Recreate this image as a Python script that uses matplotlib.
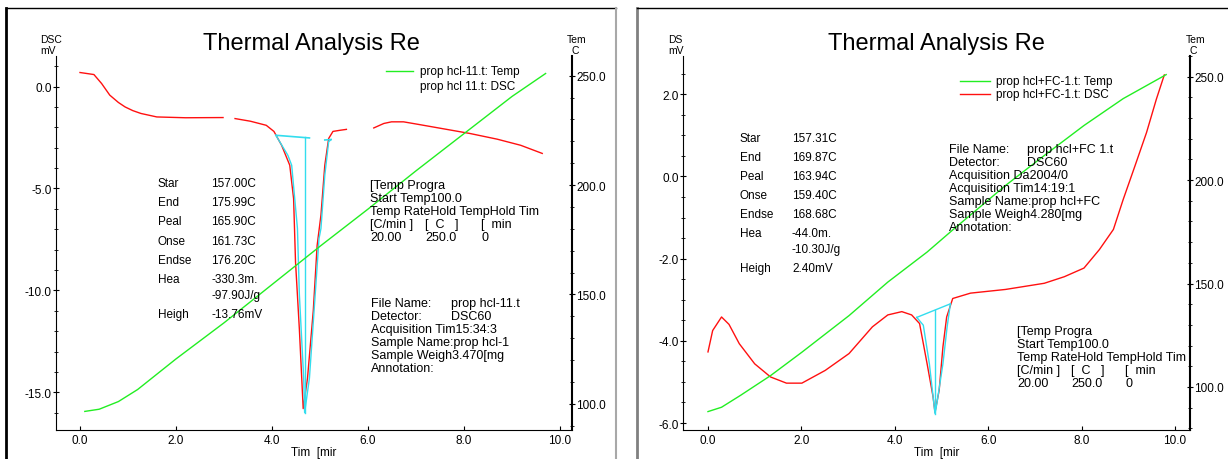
import matplotlib
matplotlib.use("Agg")
import matplotlib.pyplot as plt
import numpy as np
from matplotlib.lines import Line2D
from matplotlib.ticker import MultipleLocator, FormatStrFormatter

plt.rcParams['font.family'] = ['Liberation Sans', 'DejaVu Sans']

W, H = 1228, 460

# ---- left run: prop hcl-11 ----
left_t = [0.0, 0.29, 0.45, 0.62, 0.8, 0.94, 1.1, 1.27, 1.6, 2.2, 2.98, np.nan, 3.23, 3.55, 3.88,
          4.04, 4.2, 4.37, 4.45, 4.49, 4.57, 4.65, 4.74, 4.86, 4.94, 5.02, 5.1, 5.18, 5.27,
          5.43, 5.55, np.nan, 6.12, 6.33, 6.49, 6.74, 7.06, 7.47, 8.12, 8.69, 9.18, 9.63]
left_dsc = [0.69, 0.59, 0.15, -0.42, -0.78, -1.0, -1.18, -1.32, -1.49, -1.53, -1.52, np.nan, -1.57,
            -1.70, -1.90, -2.2, -2.88, -3.86, -5.5, -8.6, -11.9, -15.8, -14.3, -11.0, -7.8,
            -6.3, -3.86, -2.55, -2.2, -2.14, -2.1, np.nan, -2.03, -1.81, -1.73, -1.73, -1.86,
            -2.03, -2.3, -2.58, -2.88, -3.28]
left_temp_t = [0.1, 0.4, 0.8, 1.2, 1.6, 2.0, 3.0, 4.0, 5.0, 6.0, 7.0, 8.0, 9.0, 9.7]
left_temp = [96.5, 97.5, 101, 106.5, 113.5, 120.5, 137, 154.5, 172, 189, 206.5, 223.5, 240.5, 251]
left_peak_t = [4.08, 4.33, 4.41, 4.53, 4.57, 4.66, 4.68, 4.78, 4.9, 4.98, 5.02, 5.1, 5.18, 5.23]
left_peak_dsc = [-2.39, -3.37, -3.86, -6.96, -10.2, -14.3, -16.0, -14.3, -10.2, -7.45, -6.96,
                 -4.35, -2.71, -2.6]
left_base_t = [4.08, 4.78, np.nan, 5.1, 5.23]
left_base_dsc = [-2.39, -2.52, np.nan, -2.62, -2.6]
left_peak_time = 4.68
left_stats = ["157.00C", "175.99C", "165.90C", "161.73C", "176.20C", "-330.3m.", "-97.90J/g", "-13.76mV"]
left_file = ["File Name:", "Detector:", "Acquisition Tim15:34:3", "Sample Name:prop hcl-1",
             "Sample Weigh3.470[mg", "Annotation:"]
left_file_vals = ["prop hcl-11.t", "DSC60", "", "", "", ""]
left_legend = ["prop hcl-11.t: Temp", "prop hcl 11.t: DSC"]

# ---- right run: prop hcl+FC-1 ----
right_t = [0.0, 0.1, 0.29, 0.45, 0.67, 1.0, 1.34, 1.68, 2.01, 2.51, 3.02, 3.52, 3.85, 4.15,
           4.36, 4.53, 4.69, 4.82, 4.86, 4.95, 5.03, 5.11, 5.24, 5.62, 6.37, 7.2, 7.63, 8.05,
           8.38, 8.68, 8.89, 9.14, 9.39, 9.6, 9.77]
right_dsc = [-4.27, -3.75, -3.42, -3.6, -4.07, -4.56, -4.88, -5.03, -5.03, -4.72, -4.31, -3.66,
             -3.37, -3.29, -3.37, -3.58, -4.55, -5.37, -5.74, -5.2, -4.15, -3.42, -2.97, -2.84,
             -2.75, -2.6, -2.44, -2.23, -1.78, -1.29, -0.56, 0.25, 1.07, 1.88, 2.47]
right_temp_t = [0.0, 0.29, 0.7, 1.34, 2.01, 3.02, 3.85, 4.69, 5.27, 6.37, 7.2, 8.05, 8.89, 9.81]
right_temp = [88.1, 90.2, 96, 105.5, 116.8, 134.5, 150.7, 165.2, 176.5, 197.4, 211.9, 226.4, 239.4, 251]
right_peak_t = [4.47, 4.61, 4.74, 4.86, 4.9, 5.03, 5.12, 5.19]
right_peak_dsc = [-3.43, -3.62, -4.56, -5.77, -5.53, -4.56, -3.66, -3.1]
right_base_t = [4.47, 5.19]
right_base_dsc = [-3.43, -3.1]
right_peak_time = 4.86
right_stats = ["157.31C", "169.87C", "163.94C", "159.40C", "168.68C", "-44.0m.", "-10.30J/g", "2.40mV"]
right_file = ["File Name:", "Detector:", "Acquisition Da2004/0", "Acquisition Tim14:19:1",
              "Sample Name:prop hcl+FC", "Sample Weigh4.280[mg", "Annotation:"]
right_file_vals = ["prop hcl+FC 1.t", "DSC60", "", "", "", "", ""]
right_legend = ["prop hcl+FC-1.t: Temp", "prop hcl+FC-1.t: DSC"]

stat_labels = ["Star", "End", "Peal", "Onse", "Endse", "Hea", "", "Heigh"]
prog_rows = [["[Temp Progra", "", ""], ["Start Temp100.0", "", ""],
             ["Temp RateHold TempHold Tim", "", ""], ["[C/min ]", "[  C   ]", "[  min"],
             ["20.00", "250.0", "0"]]

RED = "#ff1010"
GREEN = "#22ee22"
CYAN = "#33ddee"

fig = plt.figure(figsize=(W / 100, H / 100), dpi=100)


def ftxt(x, y, s, size=8.5, **kw):
    kw.setdefault("va", "center")
    kw.setdefault("ha", "left")
    fig.text(x / W, 1 - y / H, s, fontsize=size, **kw)


def fline(xs, ys, color="black", lw=1.0):
    fig.add_artist(Line2D([x / W for x in xs], [1 - y / H for y in ys], color=color, lw=lw,
                          transform=fig.transFigure))


def make_axes(x0, x1, y0, y1, xlim, ylim, tlim, dsc_major, dsc_minor):
    ax = fig.add_axes([x0 / W, 1 - y1 / H, (x1 - x0) / W, (y1 - y0) / H])
    ax.set_xlim(*xlim)
    ax.set_ylim(*ylim)
    ax.spines['top'].set_visible(False)
    ax.spines['right'].set_visible(False)
    ax.xaxis.set_major_locator(MultipleLocator(2))
    ax.xaxis.set_major_formatter(FormatStrFormatter('%.1f'))
    ax.yaxis.set_major_locator(MultipleLocator(dsc_major))
    ax.yaxis.set_minor_locator(MultipleLocator(dsc_minor))
    ax.yaxis.set_major_formatter(FormatStrFormatter('%.1f'))
    ax.tick_params(axis='x', direction='in', length=3, pad=3, labelsize=8.5)
    ax.tick_params(axis='y', which='both', direction='inout', length=4, pad=1, labelsize=8.5)
    ax.tick_params(axis='y', which='minor', length=3)
    ax.set_xlabel("Tim  [mir", fontsize=8.5, labelpad=0)
    ax2 = ax.twinx()
    ax2.set_ylim(*tlim)
    for s in ['top', 'left', 'bottom']:
        ax2.spines[s].set_visible(False)
    ax2.yaxis.set_major_locator(MultipleLocator(50))
    ax2.yaxis.set_minor_locator(MultipleLocator(10))
    ax2.yaxis.set_major_formatter(FormatStrFormatter('%.1f'))
    ax2.tick_params(axis='y', which='both', direction='inout', length=4, pad=1, labelsize=8.5)
    ax2.tick_params(axis='y', which='minor', length=3)
    ax2.spines['right'].set_linewidth(1.5)
    return ax, ax2


# ---- left panel ----
ax, ax2 = make_axes(56, 572, 57, 431, (-0.5, 10.25), (-16.85, 1.5), (88, 259), 5, 1.0)
ax.plot(left_t, left_dsc, color=RED, lw=1.0)
ax.plot(left_peak_t, left_peak_dsc, color=CYAN, lw=1.0)
ax.plot(left_base_t, left_base_dsc, color=CYAN, lw=1.2)
ax.plot([left_peak_time, left_peak_time], [left_base_dsc[0] - 0.1, min(left_peak_dsc)], color=CYAN, lw=1.0)
ax2.plot(left_temp_t, left_temp, color=GREEN, lw=1.0)

# ---- right panel ----
bx, bx2 = make_axes(683, 1190, 57, 431, (-0.535, 10.32), (-6.17, 2.93), (79.2, 260), 2, 0.5)
bx.plot(right_t, right_dsc, color=RED, lw=1.0)
bx.plot(right_peak_t, right_peak_dsc, color=CYAN, lw=1.0)
bx.plot(right_base_t, right_base_dsc, color=CYAN, lw=1.0)
bx.plot([right_peak_time, right_peak_time], [-3.25, min(right_peak_dsc)], color=CYAN, lw=1.0)
bx2.plot(right_temp_t, right_temp, color=GREEN, lw=1.0)

# ---- frames ----
fline([6, 6], [9, 460], "black", 2.0)
fline([6, 616], [9, 9], "black", 1.0)
fline([616, 616], [9, 460], "#a8a8a8", 1.5)
fline([637, 637], [9, 460], "#808080", 2.0)
fline([637, 1228], [9, 9], "black", 1.0)

# ---- titles and axis captions ----
for cx in (311, 936):
    ftxt(cx, 44, "Thermal Analysis Re", size=17, ha="center")
ftxt(40, 40, "DSC", size=7.5)
ftxt(40, 51, "mV", size=7.5)
ftxt(567, 40, "Tem", size=7.5)
ftxt(572, 51, "C", size=7.5)
ftxt(668, 40, "DS", size=7.5)
ftxt(668, 51, "mV", size=7.5)
ftxt(1186, 40, "Tem", size=7.5)
ftxt(1190, 51, "C", size=7.5)

# ---- legends ----
fline([386, 413], [72, 72], GREEN, 1.0)
ftxt(420, 72, left_legend[0])
ftxt(420, 87, left_legend[1])
fline([960, 990], [82, 82], GREEN, 1.0)
fline([960, 990], [95, 95], RED, 1.0)
ftxt(996, 82, right_legend[0])
ftxt(996, 95, right_legend[1])

# ---- peak statistics ----
left_rows = [184, 203, 222, 242, 261, 280, 296, 315]
for lab, val, y in zip(stat_labels, left_stats, left_rows):
    ftxt(158, y, lab)
    ftxt(211, y, val)
right_rows = [139, 158, 177, 196, 215, 234, 250, 269]
for lab, val, y in zip(stat_labels, right_stats, right_rows):
    ftxt(740, y, lab)
    ftxt(792, y, val)

# ---- file info ----
for i, (lab, val) in enumerate(zip(left_file, left_file_vals)):
    ftxt(371, 304 + 13 * i, lab, size=9)
    if val:
        ftxt(451, 304 + 13 * i, val, size=9)
for i, (lab, val) in enumerate(zip(right_file, right_file_vals)):
    ftxt(949, 150 + 13 * i, lab, size=9)
    if val:
        ftxt(1027, 150 + 13 * i, val, size=9)

# ---- temperature program ----
for cols, y0 in (((370, 425, 481), 186), ((1017, 1071, 1125), 332)):
    for i, row in enumerate(prog_rows):
        for cx, s in zip(cols, row):
            if s:
                ftxt(cx, y0 + 13 * i, s, size=9)

fig.savefig("out.png", dpi=100)
